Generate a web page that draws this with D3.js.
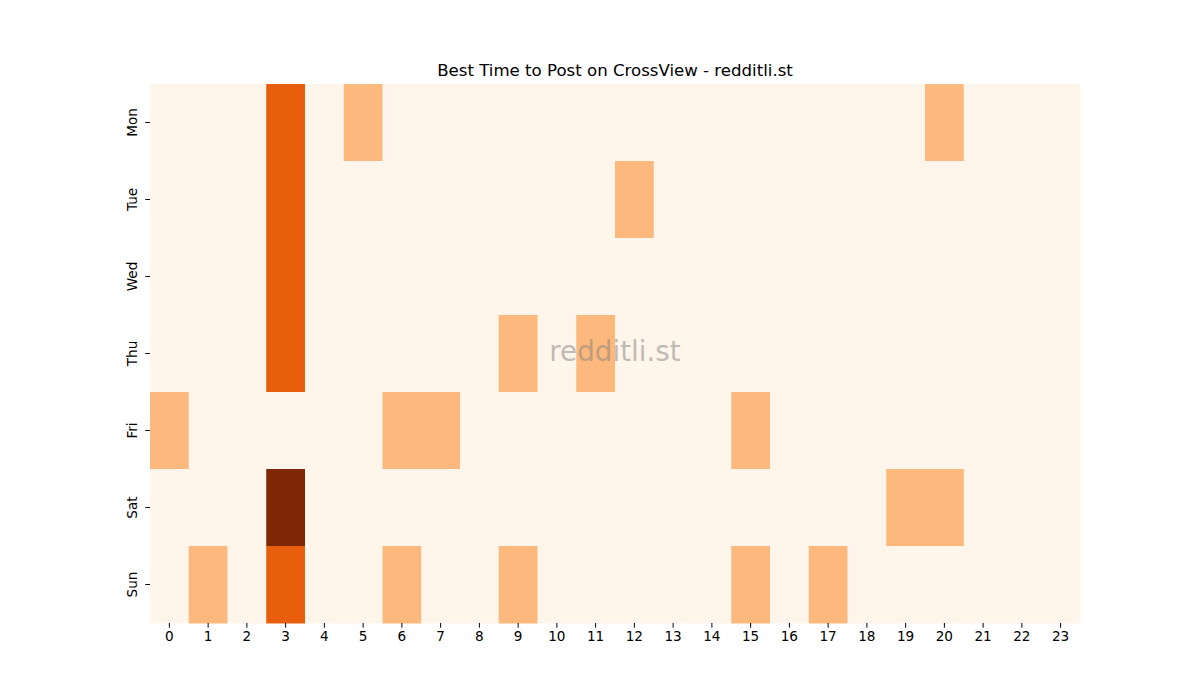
<!DOCTYPE html>
<html>
<head>
<meta charset="utf-8">
<script src="https://cdn.jsdelivr.net/npm/d3@7"></script>
<style>
  body { margin: 0; background: #fff; }
  svg text { font-family: "DejaVu Sans", sans-serif; }
</style>
</head>
<body>
<div id="chart"></div>
<script>
const days = ["Mon", "Tue", "Wed", "Thu", "Fri", "Sat", "Sun"];
const hours = d3.range(24);

// post counts per day, one value per hour 0..23
const mon = [0,0,0,2,0,1,0,0,0,0,0,0,0,0,0,0,0,0,0,0,1,0,0,0];
const tue = [0,0,0,2,0,0,0,0,0,0,0,0,1,0,0,0,0,0,0,0,0,0,0,0];
const wed = [0,0,0,2,0,0,0,0,0,0,0,0,0,0,0,0,0,0,0,0,0,0,0,0];
const thu = [0,0,0,2,0,0,0,0,0,1,0,1,0,0,0,0,0,0,0,0,0,0,0,0];
const fri = [1,0,0,0,0,0,1,1,0,0,0,0,0,0,0,1,0,0,0,0,0,0,0,0];
const sat = [0,0,0,3,0,0,0,0,0,0,0,0,0,0,0,0,0,0,0,1,1,0,0,0];
const sun = [0,1,0,2,0,0,1,0,0,1,0,0,0,0,0,1,0,1,0,0,0,0,0,0];
const rows = [mon, tue, wed, thu, fri, sat, sun];

const title = "Best Time to Post on CrossView - redditli.st";

const width = 1200, height = 700;
const margin = { top: 84, right: 120, bottom: 77, left: 150 };

const svg = d3.select("#chart")
    .append("svg")
    .attr("width", width)
    .attr("height", height);

const g = svg.append("g")
    .attr("transform", `translate(${margin.left}, ${margin.top})`);

const w = width - margin.left - margin.right;
const h = height - margin.top - margin.bottom;

const x = d3.scaleBand().domain(hours).range([0, w]);
const y = d3.scaleBand().domain(days).range([0, h]);

// matplotlib "Oranges" stops
const orangeStops = ["#fff5eb", "#fee6ce", "#fdd0a2", "#fdae6b", "#fd8d3c", "#f16913", "#d94801", "#a63603", "#7f2704"];
const vmax = d3.max(rows, r => d3.max(r));
const color = d3.scaleLinear()
    .domain(orangeStops.map((_, i) => i / (orangeStops.length - 1) * vmax))
    .range(orangeStops)
    .interpolate(d3.interpolateRgb);

const cells = [];
rows.forEach((r, i) => r.forEach((v, j) => cells.push({ day: days[i], hour: hours[j], value: v })));

g.selectAll("rect")
    .data(cells)
    .join("rect")
    .attr("x", d => x(d.hour))
    .attr("y", d => y(d.day))
    .attr("width", x.bandwidth() + 0.5)
    .attr("height", y.bandwidth() + 0.5)
    .attr("fill", d => color(d.value));

const xAxis = g.append("g")
    .attr("transform", `translate(0, ${h})`)
    .call(d3.axisBottom(x).tickSize(4.7).tickPadding(4));
xAxis.select(".domain").remove();
xAxis.selectAll("line").attr("stroke", "#000").attr("stroke-width", 1);
xAxis.selectAll("text").attr("font-size", "13.6px").attr("fill", "#000");

const yAxis = g.append("g")
    .call(d3.axisLeft(y).tickSize(4.7).tickPadding(0));
yAxis.select(".domain").remove();
yAxis.selectAll("line").attr("stroke", "#000").attr("stroke-width", 1);
yAxis.selectAll("text")
    .attr("font-size", "13.6px")
    .attr("fill", "#000")
    .attr("x", null)
    .attr("dy", null)
    .attr("text-anchor", "middle")
    .attr("transform", "translate(-13, 0) rotate(-90)");

svg.append("text")
    .attr("x", margin.left + w / 2)
    .attr("y", 76)
    .attr("text-anchor", "middle")
    .attr("font-size", "16.6px")
    .attr("fill", "#000")
    .text(title);

// watermark
svg.append("text")
    .attr("x", 615)
    .attr("y", 353)
    .attr("text-anchor", "middle")
    .attr("dominant-baseline", "middle")
    .attr("font-size", "27.8px")
    .attr("fill", "#808080")
    .attr("fill-opacity", 0.5)
    .text("redditli.st");
</script>
</body>
</html>
